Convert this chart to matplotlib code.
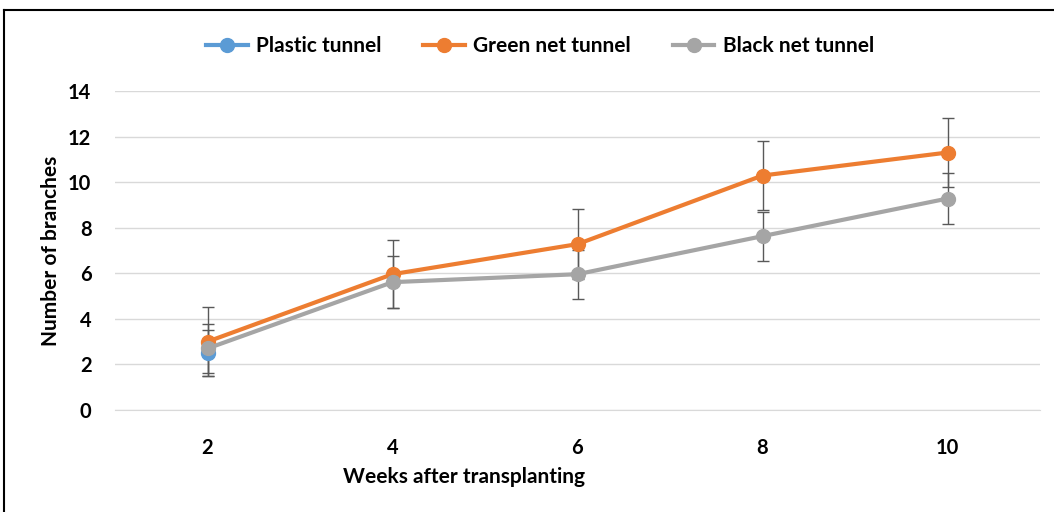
import matplotlib
matplotlib.use("Agg")
import matplotlib.pyplot as plt
import numpy as np
from matplotlib.lines import Line2D

plt.rcParams['font.family'] = ['Lato', 'DejaVu Sans']
plt.rcParams['font.weight'] = 'bold'

weeks = ['2', '4', '6', '8', '10']
plastic = [2.5, np.nan, np.nan, np.nan, np.nan]
plastic_err = [1.0, np.nan, np.nan, np.nan, np.nan]
green = [3.0, 5.96, 7.28, 10.29, 11.3]
green_err = [1.5, 1.5, 1.52, 1.51, 1.5]
black = [2.7, 5.61, 5.96, 7.63, 9.28]
black_err = [1.07, 1.14, 1.08, 1.08, 1.12]

series = [
    ('Plastic tunnel', plastic, plastic_err, '#5B9BD5'),
    ('Green net tunnel', green, green_err, '#ED7D31'),
    ('Black net tunnel', black, black_err, '#A5A5A5'),
]

fig = plt.figure(figsize=(10.54, 5.12), dpi=100)
ax = fig.add_axes([115 / 1054, 1 - 410 / 512, 925 / 1054, 319 / 512])

x = np.arange(len(weeks))
for name, vals, err, col in series:
    ax.errorbar(x, vals, yerr=err, fmt='none', ecolor='#595959', elinewidth=1,
                capsize=4, capthick=1, zorder=2)
    ax.plot(x, vals, color=col, lw=3, marker='o', markersize=10, label=name, zorder=3)

ax.set_xlim(-0.5, len(weeks) - 0.5)
ax.set_ylim(0, 14)
ax.set_yticks(range(0, 15, 2))
ax.set_xticks(x)
ax.set_xticklabels(weeks)
ax.yaxis.grid(True, color='#D9D9D9', lw=1)
ax.set_axisbelow(True)
for s in ['top', 'right', 'left']:
    ax.spines[s].set_visible(False)
ax.spines['bottom'].set_color('#D9D9D9')
ax.tick_params(axis='both', length=0, labelsize=14.5)
ax.tick_params(axis='y', pad=17)
ax.tick_params(axis='x', pad=20)

ax.set_ylabel('Number of branches', fontsize=15, fontweight='bold')
ax.yaxis.set_label_coords(-0.058, 0.5)
ax.set_xlabel('Weeks after transplanting', fontsize=15, fontweight='bold')
ax.xaxis.set_label_coords((464 - 115) / 925, -0.18)

fig.legend(loc='center', bbox_to_anchor=(540 / 1054, 1 - 46 / 512), ncol=3,
           frameon=False, fontsize=15, handlelength=2.0, columnspacing=2.0,
           handletextpad=0.4)

# frame lines of the original picture (top and left only)
fig.add_artist(Line2D([4 / 1054, 1], [1 - 10 / 512, 1 - 10 / 512],
                      transform=fig.transFigure, color='black', lw=1.5))
fig.add_artist(Line2D([4 / 1054, 4 / 1054], [0, 1 - 10 / 512],
                      transform=fig.transFigure, color='black', lw=1.5))

fig.savefig('out.png', dpi=100)
